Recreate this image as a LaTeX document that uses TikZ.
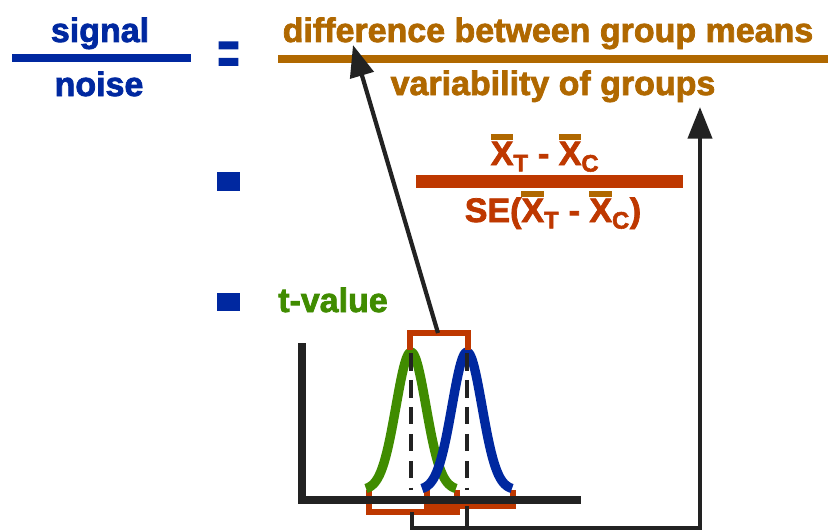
\documentclass[tikz,border=0pt]{standalone}
\usepackage{fontspec}
\setmainfont{Liberation Sans}[BoldFeatures={FakeBold=2.2}]
\usetikzlibrary{arrows.meta}

\definecolor{sigblue}{RGB}{0,40,160}
\definecolor{meanbrown}{RGB}{176,104,0}
\definecolor{serust}{RGB}{190,56,0}
\definecolor{tgreen}{RGB}{64,140,0}
\definecolor{inkblack}{RGB}{34,34,34}

% 带横线的 X
\newcommand{\xbar}[1]{\leavevmode\rlap{\textcolor{meanbrown}{\rule[0.74em]{0.667em}{0.17em}}}X\textsubscript{#1}}

\begin{document}
\begin{tikzpicture}[x=0.03cm, y=-0.03cm, >=Stealth,
    txt/.style={font=\fontsize{29}{34}\selectfont\bfseries, anchor=base, inner sep=0pt},
    bulletsq/.style={fill=sigblue, inner sep=0pt, minimum width=0.69cm, minimum height=0.55cm},
    link/.style={draw=inkblack, line width=3.6pt},
    tip/.style={-{Triangle[length=0.95cm, width=0.72cm]}},
    bracket/.style={draw=serust, line width=5pt},
    tcurve/.style={line width=8pt, line join=round}]
    \useasboundingbox (0,0) rectangle (828,531);

    % 第一行: signal / noise = ...
    \node[txt, sigblue] (signal) at (100,42) {signal};
    \node[txt, sigblue] (noise) at (99,96) {noise};
    \draw[sigblue, line width=6pt] (12,58) -- (191,58);
    \node[txt, sigblue, anchor=center] (eq) at (228.5,58) {\scalebox{1.1}[1.8]{=}};
    \node[txt, meanbrown] (diff) at (548,42) {difference between group means};
    \node[txt, meanbrown] (vari) at (553,95) {variability of groups};
    \draw[meanbrown, line width=6pt] (278,59) -- (828,59);

    % 第二行: 公式
    \node[bulletsq] (sq2) at (228.5,181.5) {};
    \node[txt, serust] (num) at (545,165) {\xbar{T} - \xbar{C}};
    \node[txt, serust] (den) at (553,222) {SE(\xbar{T} - \xbar{C})};
    \draw[serust, line width=11pt] (416,181.5) -- (683,181.5);

    % 第三行: t-value
    \node[bulletsq] (sq3) at (228.5,302) {};
    \node[txt, tgreen, anchor=base west] (tval) at (278,312) {t-value};

    % 下方括号
    \draw[bracket] (369,490) -- (369,512) -- (457,512) -- (457,490);
    \draw[bracket] (427,490) -- (427,506) -- (513,506) -- (513,490);

    % 坐标轴
    \coordinate (O) at (302,500);
    \draw[inkblack, line width=6pt] (302,343) -- (O) -- (581,500);

    % 两条分布曲线
    \draw[tcurve, tgreen] plot[domain=-45:45, samples=61] ({411+\x}, {490-138*exp(-0.5*(\x/15)^2)});
    \draw[tcurve, sigblue] plot[domain=-45:45, samples=61] ({467+\x}, {490-138*exp(-0.5*(\x/15)^2)});

    % 均值虚线
    \draw[inkblack, line width=3.6pt, dash pattern=on 15pt off 8pt] (411,353) -- (411,490);
    \draw[inkblack, line width=3.6pt, dash pattern=on 15pt off 8pt] (467,353) -- (467,490);

    % 上方括号
    \draw[bracket] (410,350) -- (410,333) -- (468,333) -- (468,350);

    % 箭头
    \coordinate (gap) at (438,333);
    \coordinate (diffTip) at (353,45);
    \draw[link, tip] (gap) -- (diffTip);

    \coordinate (gmid) at (412,512);
    \coordinate (bmid) at (467,506);
    \coordinate (gfoot) at (412,528);
    \coordinate (bfoot) at (467,528);
    \coordinate (corner) at (700,528);
    \coordinate (variTip) at (700,107);
    \draw[link, tip] (gmid) -- (gfoot) -- (corner) -- (variTip);
    \draw[link] (bmid) -- (bfoot);
\end{tikzpicture}
\end{document}
